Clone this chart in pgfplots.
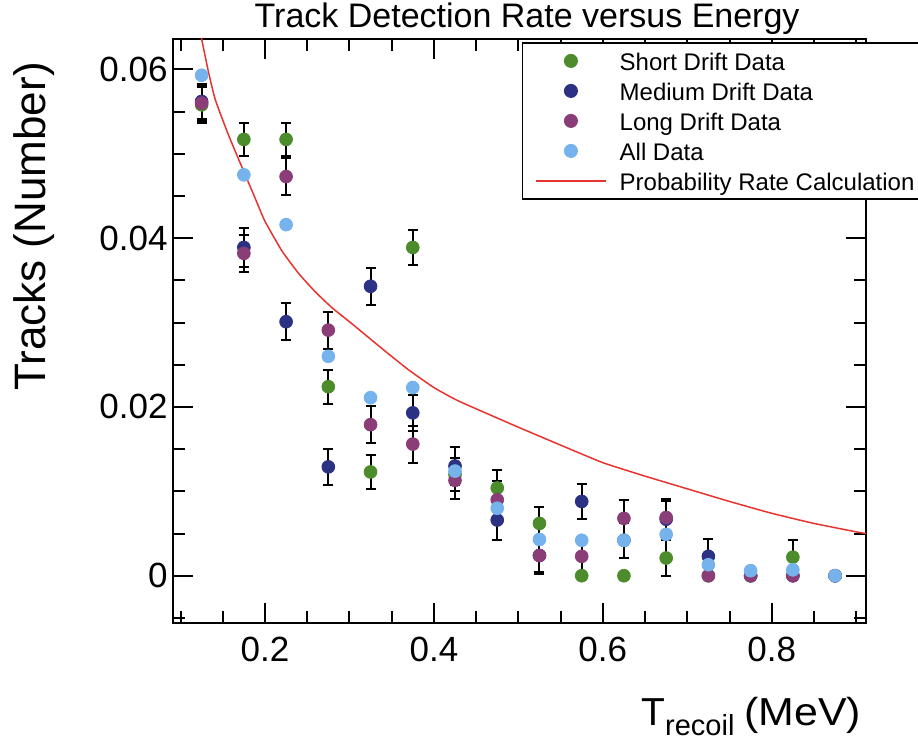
\documentclass[border=0pt]{standalone}
\usepackage{fontspec}
\setmainfont{Liberation Sans}
\usepackage{graphicx}
\usepackage{pgfplots}
\pgfplotsset{compat=1.18}
\usepackage{pgfplotstable}

\definecolor{shortc}{HTML}{4C8C2C}
\definecolor{medc}{HTML}{2B3183}
\definecolor{longc}{HTML}{8B3D78}
\definecolor{allc}{HTML}{76B3EC}
\definecolor{curvec}{HTML}{E8332F}

\pgfplotstableread{
x y e
0.125 0.0558 0.0021
0.175 0.0517 0.0020
0.225 0.0517 0.0020
0.275 0.0224 0.0020
0.325 0.0123 0.0020
0.375 0.0389 0.0021
0.425 0.0120 0.0020
0.475 0.0104 0.0021
0.525 0.0062 0.0020
0.575 0.0000 0
0.625 0.0000 0
0.675 0.0021 0.0021
0.725 0.0000 0
0.775 0.0000 0
0.825 0.0022 0.0020
0.875 0.0000 0
}\shortdata

\pgfplotstableread{
x y e
0.125 0.0562 0.0021
0.175 0.0389 0.0023
0.225 0.0301 0.0022
0.275 0.0129 0.0021
0.325 0.0343 0.0022
0.375 0.0193 0.0021
0.425 0.0130 0.0022
0.475 0.0066 0.0024
0.525 0.0024 0.0020
0.575 0.0088 0.0021
0.625 0.0042 0.0021
0.675 0.0067 0.0022
0.725 0.0023 0.0021
0.775 0.0000 0
0.825 0.0000 0
0.875 0.0000 0
}\meddata

\pgfplotstableread{
x y e
0.125 0.0560 0.0021
0.175 0.0382 0.0022
0.225 0.0473 0.0022
0.275 0.0291 0.0022
0.325 0.0179 0.0022
0.375 0.0156 0.0022
0.425 0.0113 0.0022
0.475 0.0090 0.0022
0.525 0.0024 0.0022
0.575 0.0023 0.0022
0.625 0.0068 0.0022
0.675 0.0069 0.0022
0.725 0.0000 0
0.775 0.0000 0
0.825 0.0000 0
0.875 0.0000 0
}\longdata

\pgfplotstableread{
x y
0.125 0.0593
0.175 0.0475
0.225 0.0416
0.275 0.0260
0.325 0.0211
0.375 0.0223
0.425 0.0124
0.475 0.0080
0.525 0.0043
0.575 0.0042
0.625 0.0042
0.675 0.0049
0.725 0.0013
0.775 0.0006
0.825 0.0007
0.875 0.0000
}\alldata

\pgfplotstableread{
x y
0.1246 0.0638
0.1333 0.0596
0.1412 0.0564
0.1569 0.0522
0.1728 0.0484
0.1885 0.0447
0.2000 0.0420
0.2200 0.0385
0.2400 0.0358
0.2600 0.0336
0.2800 0.0317
0.3000 0.0301
0.3400 0.0268
0.3700 0.0244
0.4000 0.0223
0.4272 0.0208
0.4587 0.0194
0.5000 0.0176
0.5495 0.0155
0.6000 0.0134
0.6500 0.0118
0.7000 0.0103
0.7500 0.0088
0.8000 0.0074
0.8500 0.0062
0.9000 0.0052
0.9116 0.0050
}\curvedata

\begin{document}
\begin{tikzpicture}
\begin{axis}[
  at={(0pt,0pt)}, anchor=south west,
  scale only axis, width=346.5pt, height=292pt,
  xmin=0.0911, xmax=0.9116, ymin=-0.0056, ymax=0.0636,
  axis line style={line width=1pt},
  every tick/.style={black, line width=1pt},
  major tick length=10pt, minor tick length=6pt,
  tick align=inside, xtick pos=both, ytick pos=both,
  xtick={0.2,0.4,0.6,0.8}, xticklabels={0.2,0.4,0.6,0.8},
  minor xtick={0.1,0.15,0.25,0.3,0.35,0.45,0.5,0.55,0.65,0.7,0.75,0.85,0.9},
  ytick={0,0.02,0.04,0.06}, yticklabels={0,0.02,0.04,0.06},
  minor ytick={-0.005,0.005,0.01,0.015,0.025,0.03,0.035,0.045,0.05,0.055},
  scaled ticks=false,
  /pgf/number format/assume math mode=true,
  ticklabel style={font=\fontsize{17.5}{20}\selectfont},
  xticklabel style={inner ysep=7pt},
  yticklabel style={inner xsep=2.5pt},
  title={Track Detection Rate versus Energy},
  title style={at={(axis description cs:0.511,0.9985)}, anchor=base, inner sep=0pt, font=\fontsize{17}{20}\selectfont},
  xlabel={T\raisebox{-5pt}{\fontsize{14.5}{16}\selectfont recoil}\hspace{5pt}\scalebox{1.1}[1]{(MeV)}},
  xlabel style={at={(axis description cs:0.8345,-0.175)}, anchor=base, inner sep=0pt, font=\fontsize{19.5}{22}\selectfont},
  ylabel={Tracks (Number)},
  ylabel style={at={(axis description cs:-0.1847,0.679)}, anchor=base, inner sep=0pt, font=\fontsize{22}{25}\selectfont},
  legend cell align=left,
  legend image code/.code={\path (-3pt,0pt); \draw[mark repeat=2,mark phase=2,#1] plot coordinates {(0pt,0pt) (17.5pt,0pt) (35pt,0pt)};},
  legend style={at={(axis description cs:0.503,0.9943)}, anchor=north west, draw=black, line width=0.6pt, fill=white,
    font=\fontsize{12}{14}\selectfont, inner xsep=3.5pt, inner ysep=1.5pt, row sep=0pt, column sep=5pt,
    nodes={inner sep=1.5pt, text height=11pt, text depth=1pt}},
  error bars/error bar style={black, line width=1pt},
  error bars/error mark options={rotate=90, black, mark size=2.5pt, line width=1pt},
]
\addplot[only marks, mark=*, mark size=3.2pt, color=shortc,
  error bars/.cd, y dir=both, y explicit] table[x=x, y=y, y error=e] {\shortdata};
\addlegendentry{Short Drift Data}
\addplot[only marks, mark=*, mark size=3.2pt, color=medc,
  error bars/.cd, y dir=both, y explicit] table[x=x, y=y, y error=e] {\meddata};
\addlegendentry{Medium Drift Data}
\addplot[only marks, mark=*, mark size=3.2pt, color=longc,
  error bars/.cd, y dir=both, y explicit] table[x=x, y=y, y error=e] {\longdata};
\addlegendentry{Long Drift Data}
\addplot[only marks, mark=*, mark size=3.2pt, color=allc] table[x=x, y=y] {\alldata};
\addlegendentry{All Data}
\addplot[color=curvec, line width=0.75pt, smooth, tension=0.3, no marks] table[x=x, y=y] {\curvedata};
\addlegendentry{Probability Rate Calculation}
\end{axis}
\pgfresetboundingbox
\path[use as bounding box] (-86.5pt,-60.5pt) rectangle (372.5pt,311.5pt);
\end{tikzpicture}
\end{document}
